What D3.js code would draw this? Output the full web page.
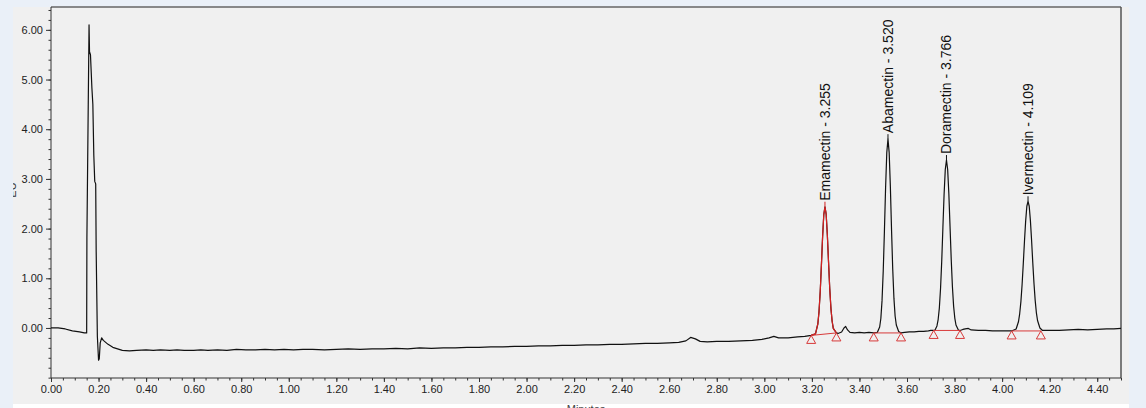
<!DOCTYPE html>
<html>
<head>
<meta charset="utf-8">
<script src="https://cdn.jsdelivr.net/npm/d3@7"></script>
<style>
  html, body { margin: 0; padding: 0; background: #eaf0f8; }
  svg { display: block; }
  text { font-family: "Liberation Sans", Arial, sans-serif; }
</style>
</head>
<body>
<svg id="chart" width="1146" height="408"></svg>
<script>
// ---- chromatogram data (minutes, EU) ----
const solventFront = [
  [0.00, 0.00], [0.03, 0.00], [0.06, -0.02], [0.09, -0.06], [0.12, -0.08], [0.14, -0.10],
  [0.148, -0.10], [0.150, -0.10], [0.151, 1.82], [0.160, 6.10], [0.162, 5.56], [0.166, 5.50],
  [0.172, 4.83], [0.176, 4.50], [0.180, 3.48], [0.184, 2.95], [0.188, 2.90], [0.190, 1.54],
  [0.195, -0.17], [0.200, -0.65], [0.203, -0.62], [0.207, -0.30], [0.213, -0.20], [0.22, -0.25],
  [0.24, -0.33], [0.26, -0.39], [0.28, -0.42]
];
const baselineDrift = [
  [0.30, -0.45], [0.33, -0.46], [0.36, -0.45], [0.40, -0.44], [0.43, -0.45], [0.46, -0.44],
  [0.50, -0.45], [0.53, -0.44], [0.56, -0.45], [0.60, -0.45], [0.63, -0.44], [0.66, -0.45],
  [0.70, -0.44], [0.74, -0.45], [0.78, -0.43], [0.82, -0.44], [0.86, -0.44], [0.90, -0.43],
  [0.94, -0.44], [0.98, -0.43], [1.02, -0.44], [1.06, -0.43], [1.10, -0.43], [1.15, -0.44],
  [1.20, -0.43], [1.25, -0.42], [1.30, -0.43], [1.35, -0.42], [1.40, -0.42], [1.45, -0.41],
  [1.50, -0.42], [1.55, -0.40], [1.60, -0.41], [1.65, -0.40], [1.70, -0.40], [1.75, -0.39],
  [1.80, -0.39], [1.85, -0.38], [1.90, -0.38], [1.95, -0.37], [2.00, -0.37], [2.05, -0.36],
  [2.10, -0.36], [2.15, -0.35], [2.20, -0.35], [2.25, -0.34], [2.30, -0.34], [2.35, -0.33],
  [2.40, -0.33], [2.45, -0.32], [2.50, -0.31], [2.55, -0.31], [2.60, -0.30], [2.64, -0.29],
  [2.67, -0.26], [2.69, -0.19], [2.71, -0.22], [2.73, -0.27], [2.76, -0.28], [2.80, -0.27],
  [2.85, -0.27], [2.90, -0.26], [2.95, -0.25], [2.99, -0.23], [3.02, -0.20], [3.04, -0.17],
  [3.06, -0.20], [3.10, -0.20], [3.14, -0.18], [3.17, -0.17], [3.197, -0.15]
];
const peakEmamectin = [
  [3.215, -0.12], [3.225, 0.08], [3.230, 0.33], [3.235, 0.73], [3.240, 1.26], [3.245, 1.83],
  [3.250, 2.28], [3.255, 2.44], [3.260, 2.29], [3.265, 1.87], [3.270, 1.33], [3.275, 0.80],
  [3.280, 0.40], [3.285, 0.14], [3.290, -0.01], [3.303, -0.10]
];
const gapAfterEmamectin = [
  [3.31, -0.11], [3.325, -0.08], [3.335, 0.00], [3.342, 0.03], [3.35, -0.04], [3.36, -0.09],
  [3.38, -0.10], [3.40, -0.09], [3.42, -0.10], [3.44, -0.09], [3.46, -0.10]
];
const peakAbamectin = [
  [3.475, -0.09], [3.485, 0.02], [3.490, 0.19], [3.495, 0.55], [3.500, 1.14], [3.505, 1.94],
  [3.510, 2.83], [3.515, 3.53], [3.520, 3.80], [3.525, 3.53], [3.530, 2.85], [3.535, 1.97],
  [3.540, 1.18], [3.545, 0.60], [3.550, 0.24], [3.555, 0.06], [3.565, -0.07], [3.575, -0.10]
];
const gapAfterAbamectin = [
  [3.59, -0.09], [3.61, -0.08], [3.63, -0.08], [3.65, -0.07], [3.67, -0.07], [3.69, -0.06],
  [3.70, -0.05]
];
const peakDoramectin = [
  [3.712, -0.05], [3.718, -0.04], [3.726, 0.04], [3.731, 0.17], [3.736, 0.40], [3.741, 0.79],
  [3.746, 1.34], [3.751, 2.02], [3.756, 2.69], [3.761, 3.19], [3.766, 3.38], [3.771, 3.19],
  [3.776, 2.70], [3.781, 2.04], [3.786, 1.38], [3.791, 0.83], [3.796, 0.44], [3.801, 0.20],
  [3.806, 0.06], [3.816, -0.04], [3.823, -0.05]
];
const gapAfterDoramectin = [
  [3.835, -0.03], [3.845, -0.02], [3.858, -0.01], [3.87, -0.04], [3.90, -0.05], [3.93, -0.05],
  [3.96, -0.06], [3.99, -0.06], [4.02, -0.06], [4.040, -0.06]
];
const peakIvermectin = [
  [4.059, -0.02], [4.069, 0.13], [4.074, 0.29], [4.079, 0.53], [4.084, 0.87], [4.089, 1.29],
  [4.094, 1.74], [4.099, 2.15], [4.104, 2.45], [4.109, 2.55], [4.114, 2.45], [4.119, 2.16],
  [4.124, 1.76], [4.129, 1.31], [4.134, 0.90], [4.139, 0.56], [4.144, 0.31], [4.149, 0.15],
  [4.159, 0.00], [4.170, -0.05]
];
const tailBaseline = [
  [4.20, -0.05], [4.24, -0.05], [4.28, -0.04], [4.32, -0.03], [4.36, -0.04], [4.40, -0.03],
  [4.44, -0.02], [4.47, -0.02], [4.50, -0.01]
];

// identified peaks
const peakNames = ["Emamectin", "Abamectin", "Doramectin", "Ivermectin"];
const retentionTimes = [3.255, 3.520, 3.766, 4.109];
const apexHeights = [2.44, 3.80, 3.38, 2.55];
const peakStart = [[3.197, -0.15], [3.460, -0.10], [3.712, -0.05], [4.040, -0.06]];
const peakEnd = [[3.303, -0.10], [3.575, -0.10], [3.823, -0.05], [4.163, -0.06]];
const peakColors = ["#d42020", "#111111", "#111111", "#111111"];

// axis ticks
const xMajorTicks = d3.range(0, 4.41, 0.2);
const xMinorTicks = d3.range(0, 4.501, 0.05);
const yMajorTicks = [0, 1, 2, 3, 4, 5, 6];
const yMinorTicks = d3.range(-1.0, 6.41, 0.2);

// ---- layout ----
const svg = d3.select("#chart");
const W = 1146, H = 408;
const plot = { left: 51, right: 1121, top: 7, bottom: 378 };

const x = d3.scaleLinear().domain([0, 4.5]).range([plot.left, plot.right]);
const y = d3.scaleLinear().domain([-1.007, 6.46]).range([plot.bottom, plot.top]);

// panel backgrounds
svg.append("rect").attr("x", 0).attr("y", 0).attr("width", W).attr("height", H).attr("fill", "#eaf0f8");
svg.append("rect").attr("x", 13).attr("y", 7).attr("width", 1116).attr("height", 397).attr("fill", "#f0f0f0");
svg.append("rect").attr("x", 13).attr("y", 404).attr("width", 1116).attr("height", 4).attr("fill", "#ffffff");

svg.append("clipPath").attr("id", "plotClip")
  .append("rect").attr("x", plot.left).attr("y", plot.top)
  .attr("width", plot.right - plot.left).attr("height", plot.bottom - plot.top);
svg.append("clipPath").attr("id", "panelClip")
  .append("rect").attr("x", 13).attr("y", 0).attr("width", 1116).attr("height", H);

// frame: top and right borders
svg.append("line").attr("x1", plot.left).attr("x2", plot.right).attr("y1", plot.top).attr("y2", plot.top)
  .attr("stroke", "#666").attr("stroke-width", 1.5);
svg.append("line").attr("x1", plot.right).attr("x2", plot.right).attr("y1", plot.top).attr("y2", plot.bottom)
  .attr("stroke", "#555").attr("stroke-width", 1.5);

// axes
const axisFont = g => g.selectAll("text").attr("font-size", 11).attr("fill", "#222")
  .attr("font-family", "'Liberation Sans', Arial, sans-serif");

svg.append("g").attr("transform", `translate(0,${plot.bottom})`)
  .call(d3.axisBottom(x).tickValues(xMinorTicks).tickSize(2.5).tickFormat(""))
  .call(g => g.select(".domain").remove())
  .call(g => g.selectAll("line").attr("stroke", "#333"));
svg.append("g").attr("transform", `translate(0,${plot.bottom})`)
  .call(d3.axisBottom(x).tickValues(xMajorTicks).tickSize(4).tickPadding(3).tickFormat(d3.format(".2f")))
  .call(g => g.select(".domain").attr("stroke", "#333").attr("d", `M${plot.left},0H${plot.right}`))
  .call(g => g.selectAll("line").attr("stroke", "#333"))
  .call(axisFont);

svg.append("g").attr("transform", `translate(${plot.left},0)`)
  .call(d3.axisLeft(y).tickValues(yMinorTicks).tickSize(2.5).tickFormat(""))
  .call(g => g.select(".domain").remove())
  .call(g => g.selectAll("line").attr("stroke", "#333"));
svg.append("g").attr("transform", `translate(${plot.left},0)`)
  .call(d3.axisLeft(y).tickValues(yMajorTicks).tickSize(5).tickPadding(3).tickFormat(d3.format(".2f")))
  .call(g => g.select(".domain").attr("stroke", "#333").attr("d", `M0,${plot.top}V${plot.bottom}`))
  .call(g => g.selectAll("line").attr("stroke", "#333"))
  .call(axisFont);

// axis titles
svg.append("g").attr("clip-path", "url(#panelClip)")
  .append("text").attr("transform", `translate(16,190) rotate(-90)`)
  .attr("text-anchor", "middle").attr("font-size", 11).attr("fill", "#333").text("EU");
svg.append("text").attr("x", (plot.left + plot.right) / 2).attr("y", 413)
  .attr("text-anchor", "middle").attr("font-size", 11).attr("fill", "#444").text("Minutes");

// ---- trace ----
const trace = [].concat(solventFront, baselineDrift, peakEmamectin, gapAfterEmamectin,
  peakAbamectin, gapAfterAbamectin, peakDoramectin, gapAfterDoramectin, peakIvermectin, tailBaseline)
  .sort((a, b) => a[0] - b[0]);

const line = d3.line().x(d => x(d[0])).y(d => y(d[1]));
const traceG = svg.append("g").attr("clip-path", "url(#plotClip)");

traceG.append("path").datum(trace).attr("d", line)
  .attr("fill", "none").attr("stroke", "#111").attr("stroke-width", 1.2).attr("stroke-linejoin", "round");

// integrated peaks drawn in their own colour
peakNames.forEach((name, i) => {
  if (peakColors[i] === "#111111") return;
  const seg = trace.filter(d => d[0] >= peakStart[i][0] && d[0] <= peakEnd[i][0]);
  traceG.append("path").datum(seg).attr("d", line)
    .attr("fill", "none").attr("stroke", peakColors[i]).attr("stroke-width", 1.2);
});

// integration baselines and event markers
const red = "#d83a3a";
peakNames.forEach((name, i) => {
  traceG.append("line")
    .attr("x1", x(peakStart[i][0])).attr("y1", y(peakStart[i][1]))
    .attr("x2", x(peakEnd[i][0])).attr("y2", y(peakEnd[i][1]))
    .attr("stroke", red).attr("stroke-width", 1);
  [peakStart[i], peakEnd[i]].forEach(p => {
    const cx = x(p[0]), cy = y(p[1]);
    traceG.append("path")
      .attr("d", `M${cx},${cy} L${cx + 4.5},${cy + 8} L${cx - 4.5},${cy + 8} Z`)
      .attr("fill", "none").attr("stroke", red).attr("stroke-width", 1);
  });
});

// peak labels
peakNames.forEach((name, i) => {
  const px = x(retentionTimes[i]);
  const py = y(apexHeights[i]);
  svg.append("line").attr("x1", px).attr("x2", px).attr("y1", py).attr("y2", py - 5)
    .attr("stroke", peakColors[i]).attr("stroke-width", 1);
  svg.append("text")
    .attr("transform", `translate(${px + 5},${py - 6}) rotate(-90)`)
    .attr("font-size", 14).attr("fill", "#111")
    .text(`${name} - ${retentionTimes[i].toFixed(3)}`);
});
</script>
</body>
</html>
